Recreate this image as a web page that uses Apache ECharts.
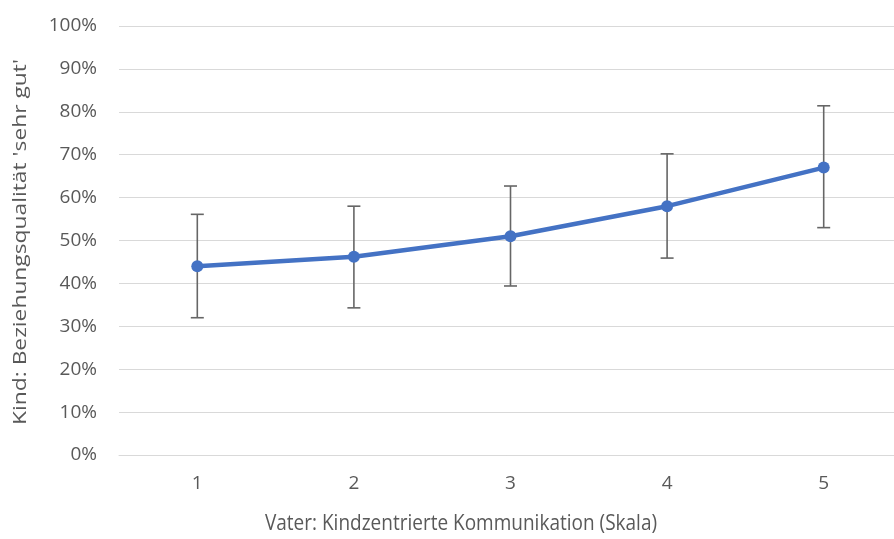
<!DOCTYPE html>
<html>
<head>
<meta charset="utf-8">
<script src="https://cdn.jsdelivr.net/npm/echarts@6/dist/echarts.min.js"></script>
<style>html,body{margin:0;padding:0;background:#fff}#c{width:894px;height:539px}</style>
</head>
<body>
<div id="c"></div>
<script>
var categories = ['1', '2', '3', '4', '5'];
var values = [0.440, 0.462, 0.510, 0.580, 0.670];
var lower = [0.320, 0.343, 0.394, 0.459, 0.530];
var upper = [0.561, 0.580, 0.627, 0.702, 0.814];
var yTicks = [0, 0.1, 0.2, 0.3, 0.4, 0.5, 0.6, 0.7, 0.8, 0.9, 1.0];
var xTitle = 'Vater: Kindzentrierte Kommunikation (Skala)';
var yTitle = "Kind: Beziehungsqualität 'sehr gut'";

var FONT = '"Open Sans", "Noto Sans", sans-serif';
var TXT = '#595959';
var chart = echarts.init(document.getElementById('c'));
var errData = categories.map(function (c, i) { return [i, lower[i], upper[i]]; });
chart.setOption({
  animation: false,
  grid: { left: 119, top: 26, right: -8, height: 429, containLabel: false, outerBoundsMode: 'none' },
  xAxis: {
    type: 'category', data: categories, boundaryGap: true,
    axisLine: { show: true, lineStyle: { color: '#d9d9d9', width: 1 } },
    axisTick: { show: false },
    axisLabel: { color: TXT, fontSize: 19, fontFamily: FONT, margin: 19 }
  },
  yAxis: {
    type: 'value', min: yTicks[0], max: yTicks[yTicks.length - 1], interval: 0.1,
    axisLine: { show: false }, axisTick: { show: false },
    splitLine: { lineStyle: { color: '#d9d9d9', width: 1 } },
    axisLabel: { color: TXT, fontSize: 19, fontFamily: FONT, margin: 22,
      formatter: function (v) { return Math.round(v * 100) + '%'; } }
  },
  graphic: [
    { type: 'text', x: 461, y: 524, scaleY: 1.12, style: { text: xTitle, fill: TXT, font: '19px ' + FONT, align: 'center', verticalAlign: 'middle' } },
    { type: 'text', x: 21, y: 242, rotation: Math.PI / 2, scaleX: 1.2, style: { text: yTitle, fill: TXT, font: '19px ' + FONT, align: 'center', verticalAlign: 'middle' } }
  ],
  series: [
    {
      type: 'custom', data: errData, z: 1,
      renderItem: function (params, api) {
        var x = api.value(0);
        var lo = api.coord([x, api.value(1)]);
        var hi = api.coord([x, api.value(2)]);
        var hw = 6.5;
        var st = { stroke: '#666666', lineWidth: 1.6 };
        return { type: 'group', children: [
          { type: 'line', shape: { x1: lo[0], y1: lo[1], x2: hi[0], y2: hi[1] }, style: st },
          { type: 'line', shape: { x1: lo[0] - hw, y1: lo[1], x2: lo[0] + hw, y2: lo[1] }, style: st },
          { type: 'line', shape: { x1: hi[0] - hw, y1: hi[1], x2: hi[0] + hw, y2: hi[1] }, style: st }
        ] };
      }
    },
    {
      type: 'line', data: values, z: 2,
      symbol: 'circle', symbolSize: 12,
      lineStyle: { color: '#4472C4', width: 4.5 },
      itemStyle: { color: '#4472C4' }
    }
  ]
});
</script>
</body>
</html>
